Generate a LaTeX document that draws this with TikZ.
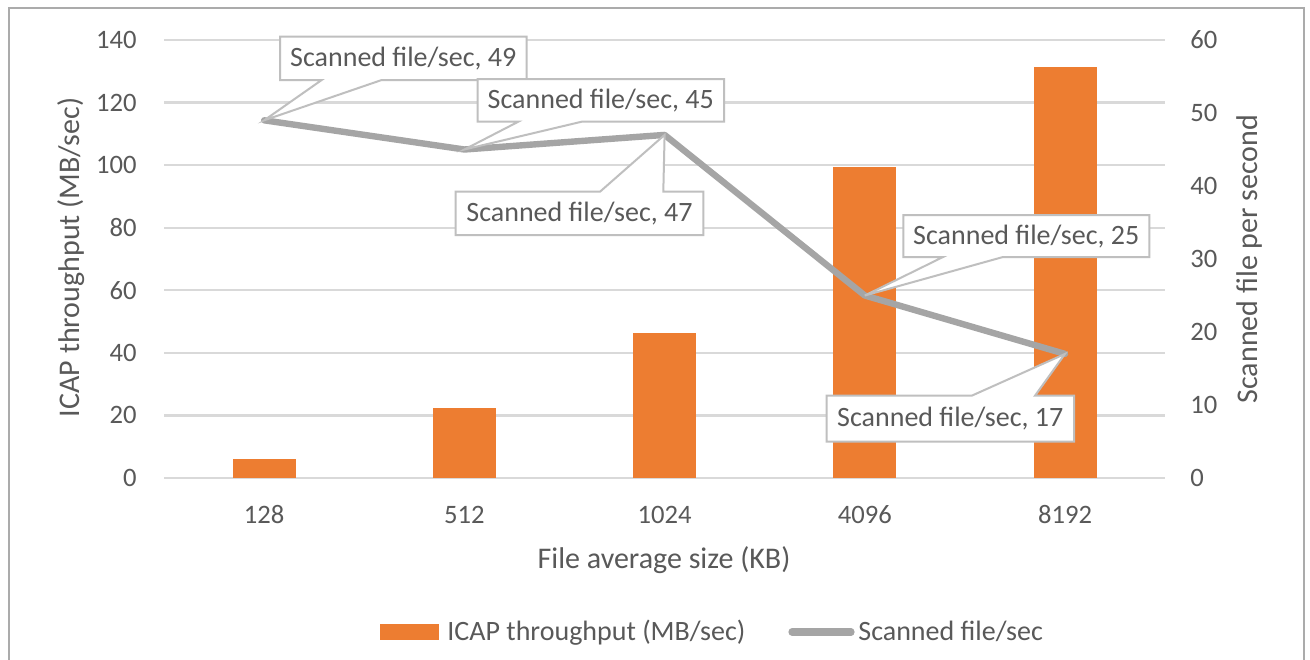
\documentclass[tikz,border=0pt]{standalone}
\usepackage{fontspec}
\setmainfont{Carlito}
\definecolor{barorange}{HTML}{ED7D31}
\definecolor{linegray}{HTML}{A5A5A5}
\definecolor{gridgray}{HTML}{D9D9D9}
\definecolor{textgray}{HTML}{595959}
\definecolor{calloutgray}{HTML}{BFBFBF}
\definecolor{framegray}{HTML}{ABABAB}
\tikzset{
  grid line/.style={gridgray, line width=1.1pt},
  bar/.style={fill=barorange, draw=none},
  series line/.style={linegray, line width=3.2pt, line join=round, line cap=round},
  callout box/.style={fill=white, draw=calloutgray, line width=1pt, line join=miter},
  callout text/.style={text=textgray, font=\fontsize{14}{16}\selectfont, inner sep=0pt},
  tick label/.style={text=textgray, font=\fontsize{13.3}{15}\selectfont, inner sep=0pt},
  axis title/.style={text=textgray, font=\fontsize{15}{17}\selectfont, inner sep=0pt},
  legend text/.style={text=textgray, font=\fontsize{14}{16}\selectfont, inner sep=0pt},
}
\begin{document}
\begin{tikzpicture}[x=0.5pt, y=-0.5pt]
\useasboundingbox (0,0) rectangle (1310,659);
\clip (0,0) rectangle (1310,659);
\fill[white] (0,0) rectangle (1310,659);
% chart frame
\draw[framegray, line width=1pt] (9,670) -- (9,8) -- (1304,8) -- (1304,670);

% horizontal grid and left tick labels (0..140)
\foreach \i/\l in {0/0, 1/20, 2/40, 3/60, 4/80, 5/100, 6/120, 7/140} {
  \pgfmathsetmacro{\gy}{478 - \i*62.57}
  \draw[grid line] (164,\gy) -- (1165,\gy);
  \node[tick label, anchor=east] (yl\i) at (137,\gy) {\l};
}
% right tick labels (0..60)
\foreach \i/\r in {0/0, 1/10, 2/20, 3/30, 4/40, 5/50, 6/60} {
  \pgfmathsetmacro{\gy}{478 - \i*73.0}
  \node[tick label, anchor=west] (yr\i) at (1190,\gy) {\r};
}

% bars: ICAP throughput (MB/sec)
\foreach \i/\v in {0/5.98, 1/22.28, 2/46.44, 3/99.5, 4/131.5} {
  \pgfmathsetmacro{\cx}{264.2 + \i*200.2}
  \pgfmathsetmacro{\top}{478 - \v*3.1286}
  \fill[bar] (\cx-31.5,478) rectangle (\cx+31.5,\top);
}

% category labels
\foreach \i/\c in {0/128, 1/512, 2/1024, 3/4096, 4/8192} {
  \pgfmathsetmacro{\cx}{264.2 + \i*200.2}
  \node[tick label, anchor=base] (xl\i) at (\cx,523) {\c};
}

% line series: scanned file/sec
\coordinate (p0) at (264.2,120.3);
\coordinate (p1) at (464.4,149.5);
\coordinate (p2) at (664.6,134.9);
\coordinate (p3) at (864.8,295.5);
\coordinate (p4) at (1065,353.9);
\draw[series line] (p0) -- (p1) -- (p2) -- (p3) -- (p4);

% data callouts
\draw[callout box] (280,36.7) -- (526.7,36.7) -- (526.7,80) -- (381.7,80) -- (p0) -- (321.7,80) -- (280,80) -- cycle;
\node[callout text] (c49) at (403.3,58.6) {Scanned file/sec, 49};

\draw[callout box] (477.7,79) -- (724,79) -- (724,121.7) -- (581.7,121.7) -- (p1) -- (518.3,121.7) -- (477.7,121.7) -- cycle;
\node[callout text] (c45) at (600.8,100.6) {Scanned file/sec, 45};

\draw[callout box] (455.7,191.7) -- (600,191.7) -- (p2) -- (663.3,191.7) -- (703.3,191.7) -- (703.3,235) -- (455.7,235) -- cycle;
\node[callout text] (c47) at (579.5,213.6) {Scanned file/sec, 47};

\draw[callout box] (903.3,215) -- (1149.3,215) -- (1149.3,257) -- (1003,257) -- (p3) -- (943,257) -- (903.3,257) -- cycle;
\node[callout text] (c25) at (1026.3,236.3) {Scanned file/sec, 25};

\draw[callout box] (826.7,395.7) -- (971.7,395.7) -- (p4) -- (1035,395.7) -- (1074,395.7) -- (1074,441.7) -- (826.7,441.7) -- cycle;
\node[callout text] (c17) at (950.3,419) {Scanned file/sec, 17};

% axis titles
\node[axis title, rotate=90] (ytl) at (71,257.5) {ICAP throughput (MB/sec)};
\node[axis title, rotate=90] (ytr) at (1249,259) {Scanned file per second};
\node[axis title, anchor=base] (xt) at (664,568) {File average size (KB)};

% legend
\fill[bar] (380,624) rectangle (439,640);
\node[legend text, anchor=base west] (lg1) at (447,640) {ICAP throughput (MB/sec)};
\coordinate (lgA) at (792,632);
\coordinate (lgB) at (851,632);
\draw[linegray, line width=3.6pt, line cap=round] (lgA) -- (lgB);
\node[legend text, anchor=base west] (lg2) at (858,640) {Scanned file/sec};
\end{tikzpicture}
\end{document}
